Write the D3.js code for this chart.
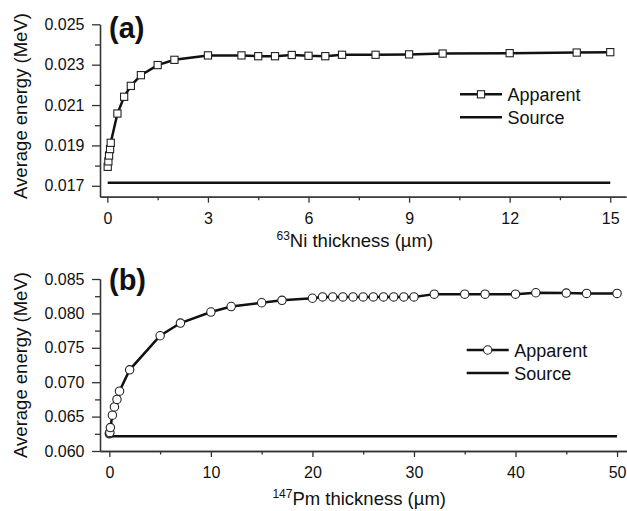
<html><head>
<meta charset="utf-8">
<title>Average energy vs thickness</title>
<script src="https://d3js.org/d3.v7.min.js"></script>
<style>
  body { margin: 0; background: #fff; }
  text { font-family: "Liberation Sans", Arial, sans-serif; fill: #111; }
  .axis path, .axis line { stroke: #333; stroke-width: 1.3; }
  .axis text { font-size: 16px; fill: #111; }
</style>
</head>
<body>
<div id="chart"></div>
<script>

// ---- data ----
// (a) 63Ni
var niThickness = [0.01, 0.03, 0.05, 0.08, 0.1, 0.3, 0.5, 0.7, 1, 1.5, 2, 3, 4, 4.5, 5, 5.5, 6, 6.5, 7, 8, 9, 10, 12, 14, 15];
var niApparent  = [0.01794, 0.01821, 0.01850, 0.01882, 0.01913, 0.02058, 0.02141, 0.02195, 0.02248, 0.02298, 0.02324, 0.02346,
                   0.02346, 0.02342, 0.02342, 0.02348, 0.02344, 0.02342, 0.02349, 0.02349, 0.02351, 0.02355, 0.02357, 0.02360, 0.02362];
var niSource = 0.01715;
var niXTicks = [0, 3, 6, 9, 12, 15];
var niXMinor = [1.5, 4.5, 7.5, 10.5, 13.5];
var niYTicks = [0.017, 0.019, 0.021, 0.023, 0.025];
var niYMinor = [0.018, 0.020, 0.022, 0.024];

// (b) 147Pm
var pmThickness = [0, 0.02, 0.05, 0.1, 0.3, 0.5, 0.75, 1, 2, 5, 7, 10, 12, 15, 17, 20,
                   21, 22, 23, 24, 25, 26, 27, 28, 29, 30, 32, 35, 37, 40, 42, 45, 47, 50];
var pmApparent  = [0.0625, 0.0626, 0.0627, 0.0634, 0.0652, 0.0664, 0.0675, 0.0687, 0.0718, 0.07675, 0.0786, 0.0802, 0.0810, 0.08155, 0.0819, 0.0822,
                   0.0824, 0.0824, 0.0824, 0.0824, 0.0824, 0.0824, 0.0824, 0.0824, 0.0824, 0.0824, 0.0828, 0.0828, 0.0828, 0.0828, 0.0830, 0.08295, 0.0829, 0.0829];
var pmSource = 0.06214;
var pmXTicks = [0, 10, 20, 30, 40, 50];
var pmXMinor = [5, 15, 25, 35, 45];
var pmYTicks = [0.060, 0.065, 0.070, 0.075, 0.080, 0.085];
var pmYMinor = [0.0625, 0.0675, 0.0725, 0.0775, 0.0825];

var svg = d3.select("#chart")
  .append("svg")
    .attr("width", 627)
    .attr("height", 511);

function drawPanel(p) {
  var x = d3.scaleLinear().domain(p.xDomain).range(p.xRange);
  var y = d3.scaleLinear().domain(p.yDomain).range(p.yRange);
  var g = svg.append("g");

  // minor ticks first
  g.append("g").attr("class", "axis")
    .attr("transform", "translate(0," + p.yRange[0] + ")")
    .call(d3.axisBottom(x).tickValues(p.xMinor).tickSize(3.5).tickSizeOuter(0).tickFormat(""));
  g.append("g").attr("class", "axis")
    .attr("transform", "translate(" + p.xRange[0] + ",0)")
    .call(d3.axisLeft(y).tickValues(p.yMinor).tickSize(5).tickSizeOuter(0).tickFormat(""));

  g.append("g").attr("class", "axis")
    .attr("transform", "translate(0," + p.yRange[0] + ")")
    .call(d3.axisBottom(x).tickValues(p.xTicks).tickSize(6).tickPadding(9.5).tickSizeOuter(0).tickFormat(d3.format("d")));
  g.append("g").attr("class", "axis")
    .attr("transform", "translate(" + p.xRange[0] + ",0)")
    .call(d3.axisLeft(y).tickValues(p.yTicks).tickSize(8).tickPadding(7.5).tickSizeOuter(0).tickFormat(d3.format(".3f")));

  // source line
  g.append("path")
    .datum([p.xs[0], p.xs[p.xs.length - 1]])
    .attr("fill", "none")
    .attr("stroke", "#111")
    .attr("stroke-width", 2.6)
    .attr("d", d3.line().x(function(d) { return x(d); }).y(function() { return y(p.source); }));

  // apparent line
  g.append("path")
    .datum(p.xs)
    .attr("fill", "none")
    .attr("stroke", "#111")
    .attr("stroke-width", 2.5)
    .attr("d", d3.line()
      .x(function(d) { return x(d); })
      .y(function(d, i) { return y(p.ys[i]); }));

  var pts = g.selectAll(".pt").data(p.xs).enter();
  if (p.marker == "square") {
    pts.append("rect")
      .attr("x", function(d) { return x(d) - 3.6; })
      .attr("y", function(d, i) { return y(p.ys[i]) - 3.6; })
      .attr("width", 7.2).attr("height", 7.2)
      .attr("fill", "#fff").attr("stroke", "#222").attr("stroke-width", 1.1);
  } else {
    pts.append("circle")
      .attr("cx", function(d) { return x(d); })
      .attr("cy", function(d, i) { return y(p.ys[i]); })
      .attr("r", 4.2)
      .attr("fill", "#fff").attr("stroke", "#222").attr("stroke-width", 1.1);
  }

  // panel letter
  g.append("text")
    .attr("x", p.xRange[0] + 9)
    .attr("y", p.letterY)
    .style("font-size", "29px")
    .style("font-weight", "bold")
    .text(p.letter);

  // y label
  g.append("text")
    .attr("transform", "translate(26.5," + p.yLabelY + ") rotate(-90)")
    .attr("text-anchor", "middle")
    .style("font-size", "18.5px")
    .text("Average energy (MeV)");

  // x label
  var xl = g.append("text")
    .attr("x", (x(p.xTicks[0]) + x(p.xTicks[p.xTicks.length - 1])) / 2 - 4)
    .attr("y", p.xLabelY)
    .attr("text-anchor", "middle")
    .style("font-size", "18.5px");
  xl.append("tspan").style("font-size", "12px").attr("dy", -7).text(p.iso);
  xl.append("tspan").attr("dy", 7).text(p.elem + " thickness (\u00b5m)");

  // legend
  var lg = g.append("g");
  lg.append("line")
    .attr("x1", p.legX).attr("x2", p.legX + 42)
    .attr("y1", p.legY).attr("y2", p.legY)
    .attr("stroke", "#111").attr("stroke-width", 2.5);
  if (p.marker == "square") {
    lg.append("rect")
      .attr("x", p.legX + 21 - 3.6).attr("y", p.legY - 3.6)
      .attr("width", 7.2).attr("height", 7.2)
      .attr("fill", "#fff").attr("stroke", "#222").attr("stroke-width", 1.1);
  } else {
    lg.append("circle")
      .attr("cx", p.legX + 21).attr("cy", p.legY).attr("r", 4.2)
      .attr("fill", "#fff").attr("stroke", "#222").attr("stroke-width", 1.1);
  }
  lg.append("line")
    .attr("x1", p.legX).attr("x2", p.legX + 42)
    .attr("y1", p.legY + 23).attr("y2", p.legY + 23)
    .attr("stroke", "#111").attr("stroke-width", 2.5);
  lg.append("text")
    .attr("x", p.legX + 47.5).attr("y", p.legY + 6.5)
    .style("font-size", "18px")
    .text("Apparent");
  lg.append("text")
    .attr("x", p.legX + 47.5).attr("y", p.legY + 29.5)
    .style("font-size", "18px")
    .text("Source");
}

drawPanel({
  xs: niThickness, ys: niApparent, source: niSource,
  xDomain: [-0.22, 15.47], xRange: [100, 626],
  yDomain: [0.01646, 0.025], yRange: [196.7, 24.3],
  xTicks: niXTicks, xMinor: niXMinor, yTicks: niYTicks, yMinor: niYMinor,
  marker: "square", letter: "(a)", letterY: 38,
  yLabelY: 106, xLabelY: 247, iso: "63", elem: "Ni",
  legX: 460, legY: 94.3
});

drawPanel({
  xs: pmThickness, ys: pmApparent, source: pmSource,
  xDomain: [-0.92, 50.98], xRange: [100, 627],
  yDomain: [0.060, 0.085], yRange: [451, 279],
  xTicks: pmXTicks, xMinor: pmXMinor, yTicks: pmYTicks, yMinor: pmYMinor,
  marker: "circle", letter: "(b)", letterY: 290,
  yLabelY: 365, xLabelY: 505, iso: "147", elem: "Pm",
  legX: 466.7, legY: 350
});

</script>
</body></html>
